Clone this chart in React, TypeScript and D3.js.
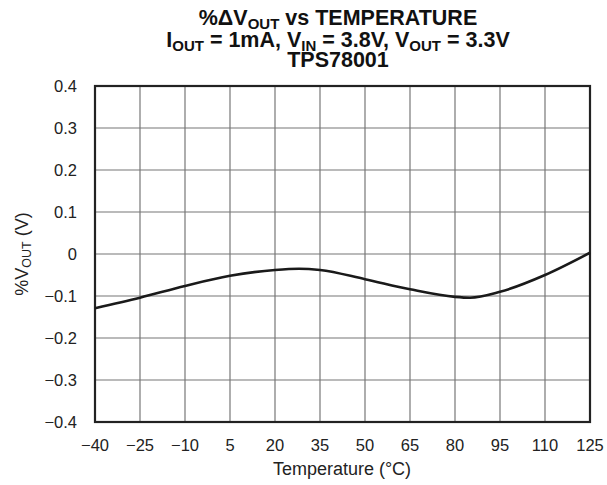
import React from "react";
import * as d3 from "d3";

const temps = [-40, -25, -10, 5, 20, 28, 35, 50, 65, 80, 85, 95, 110, 125];
const vout = [-0.129, -0.104, -0.076, -0.052, -0.038, -0.035, -0.038, -0.06, -0.084, -0.102, -0.104, -0.09, -0.05, 0.003];
const xTicks = [-40, -25, -10, 5, 20, 35, 50, 65, 80, 95, 110, 125];
const yTicks = [-0.4, -0.3, -0.2, -0.1, 0, 0.1, 0.2, 0.3, 0.4];

const W = 607, H = 485;
const L = 95, R = 590, T = 86, B = 422;
const CX = 338;
const font = "Liberation Sans, Arial, sans-serif";

export default function App() {
  const x = d3.scaleLinear().domain([-40, 125]).range([L, R]);
  const y = d3.scaleLinear().domain([-0.4, 0.4]).range([B, T]);
  const pts = temps.map((t, i) => [t, vout[i]] as [number, number]);
  const line = d3.line<[number, number]>().x(d => x(d[0])).y(d => y(d[1])).curve(d3.curveMonotoneX);
  const fmtY = (v: number) => (v === 0 ? "0" : (v < 0 ? "\u2212" : "") + Math.abs(v).toFixed(1));
  const fmtX = (v: number) => (v < 0 ? "\u2212" : "") + Math.abs(v);
  const sub = 15;
  return (
    <svg width={W} height={H} style={{ position: "absolute", left: 0, top: 0, background: "#fff" }} fontFamily={font}>
      <rect width={W} height={H} fill="#fff" />
      <g fontWeight="bold" fontSize={21.5} textAnchor="middle" fill="#111">
        <text x={CX} y={25}>%ΔV<tspan fontSize={sub} dy={4}>OUT</tspan><tspan dy={-4}> vs TEMPERATURE</tspan></text>
        <text x={CX} y={47}>I<tspan fontSize={sub} dy={4}>OUT</tspan><tspan dy={-4}> = 1mA, V</tspan><tspan fontSize={sub} dy={4}>IN</tspan><tspan dy={-4}> = 3.8V, V</tspan><tspan fontSize={sub} dy={4}>OUT</tspan><tspan dy={-4}> = 3.3V</tspan></text>
        <text x={CX} y={67}>TPS78001</text>
      </g>
      {xTicks.map(t => (
        <line key={"gx" + t} x1={x(t)} x2={x(t)} y1={T} y2={B} stroke="#777" strokeWidth={1.2} />
      ))}
      {yTicks.map(t => (
        <line key={"gy" + t} x1={L} x2={R} y1={y(t)} y2={y(t)} stroke="#777" strokeWidth={1.2} />
      ))}
      <rect x={L} y={T} width={R - L} height={B - T} fill="none" stroke="#222" strokeWidth={2.2} />
      <path d={line(pts) || ""} fill="none" stroke="#1a1a1a" strokeWidth={2.6} />
      <g fontSize={16.5} fill="#222">
        {yTicks.map(t => (
          <text key={"yl" + t} x={77} y={y(t) + 6} textAnchor="end">{fmtY(t)}</text>
        ))}
        {xTicks.map(t => (
          <text key={"xl" + t} x={x(t)} y={451} textAnchor="middle">{fmtX(t)}</text>
        ))}
        <text x={342} y={475} textAnchor="middle" fontSize={18}>Temperature (°C)</text>
        <text transform={`translate(28,254) rotate(-90)`} textAnchor="middle" fontSize={18}>%V<tspan fontSize={12.5} dy={3}>OUT</tspan><tspan dy={-3}> (V)</tspan></text>
      </g>
    </svg>
  );
}
